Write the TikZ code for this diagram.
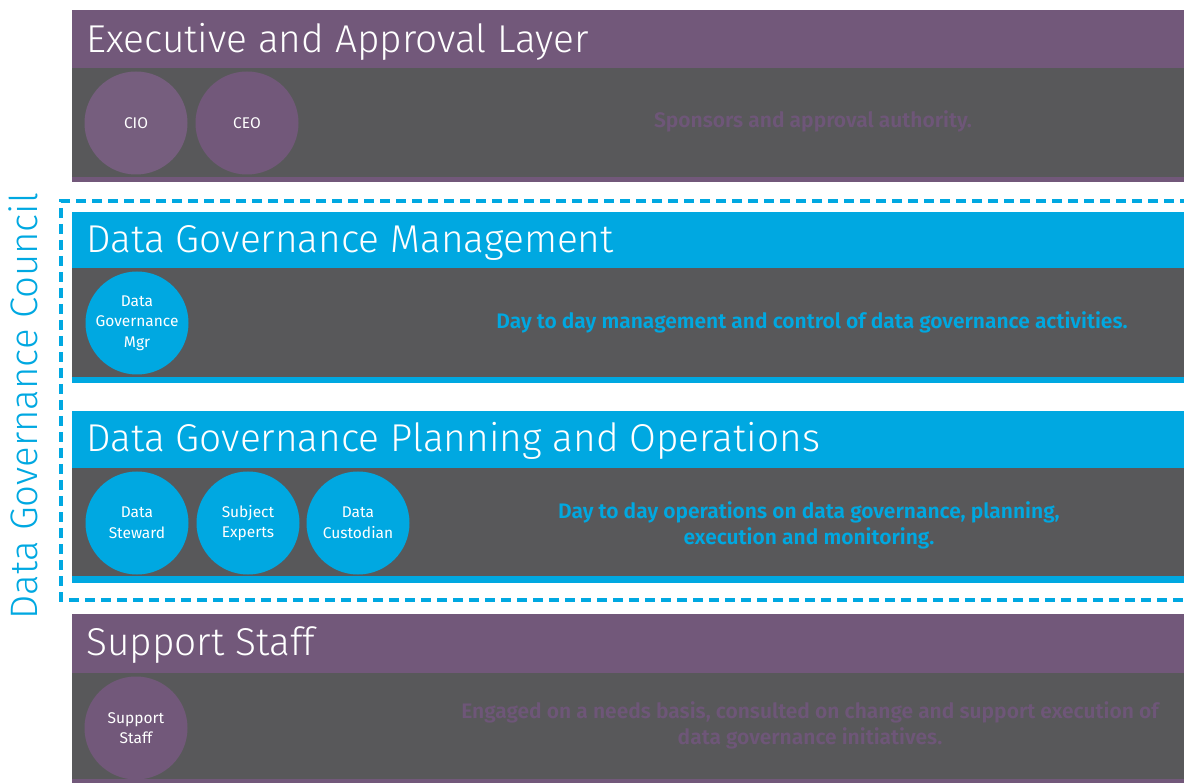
\documentclass[tikz,border=0pt]{standalone}
\usepackage{fontspec}
\setmainfont{Fira Sans}
\newfontfamily\lightfont{Fira Sans Light}
\newfontfamily\semifont{Fira Sans SemiBold}
\definecolor{purp}{HTML}{72587A}
\definecolor{purpc}{HTML}{765E7E}
\definecolor{dgray}{HTML}{58585A}
\definecolor{blu}{HTML}{00A8E1}
\definecolor{purptext}{HTML}{6E5678}
\begin{document}
\begin{tikzpicture}[x=1pt,y=-1pt,
  headtxt/.style={anchor=base west, text=white, inner sep=0pt, font=\lightfont\fontsize{38.8}{42}\selectfont},
  circ/.style={circle, minimum size=103pt, inner sep=0pt, text=white, align=center, font=\fontsize{15.5}{20.5}\selectfont},
  desc/.style={align=center, inner sep=0pt, font=\semifont\fontsize{21}{26}\selectfont},
  council/.style={draw=blu, line width=4pt, dash pattern=on 10pt off 6pt}]
\useasboundingbox (0,0) rectangle (1184,783);
% panel 1
\fill[purp] (72,10) rectangle (1184,182);
\fill[dgray] (72,68) rectangle (1184,177);
\node[headtxt] (h1) at (86,53) {Executive and Approval Layer};
\node[circ, fill=purpc] (cio) at (136,123) {CIO};
\node[circ, fill=purp] (ceo) at (247,123) {CEO};
\node[desc, text=purptext] (d1) at (813,121) {Sponsors and approval authority.};
% council frame
\draw[council] (1190,201) -- (61,201) -- (61,600) -- (1190,600);
\node[rotate=90, anchor=base, text=blu, inner sep=0pt, font=\lightfont\fontsize{38.3}{42}\selectfont] (council) at (37,406) {Data Governance Council};
% panel 2
\fill[blu] (72,212) rectangle (1184,383);
\fill[dgray] (72,268) rectangle (1184,377);
\node[headtxt] (h2) at (86,253) {Data Governance Management};
\node[circ, fill=blu] (dgm) at (137,323) {Data\\Governance\\Mgr};
\node[desc, text=blu] (d2) at (812,322) {Day to day management and control of data governance activities.};
% panel 3
\fill[blu] (72,411) rectangle (1184,583);
\fill[dgray] (72,468) rectangle (1184,576);
\node[headtxt] (h3) at (86,452) {Data Governance Planning and Operations};
\node[circ, fill=blu] (ds) at (137,523) {Data\\Steward};
\node[circ, fill=blu] (se) at (248,523) {Subject\\Experts};
\node[circ, fill=blu] (dc) at (358,523) {Data\\Custodian};
\node[desc, text=blu] (d3) at (809,525) {Day to day operations on data governance, planning,\\execution and monitoring.};
% panel 4
\fill[purp] (72,614) rectangle (1184,783);
\fill[dgray] (72,673) rectangle (1184,779);
\node[headtxt] (h4) at (86,655) {Support Staff};
\node[circ, fill=purp] (ss) at (136,728) {Support\\Staff};
\node[desc, text=purptext] (d4) at (810,725) {Engaged on a needs basis, consulted on change and support execution of\\data governance initiatives.};
\end{tikzpicture}
\end{document}
